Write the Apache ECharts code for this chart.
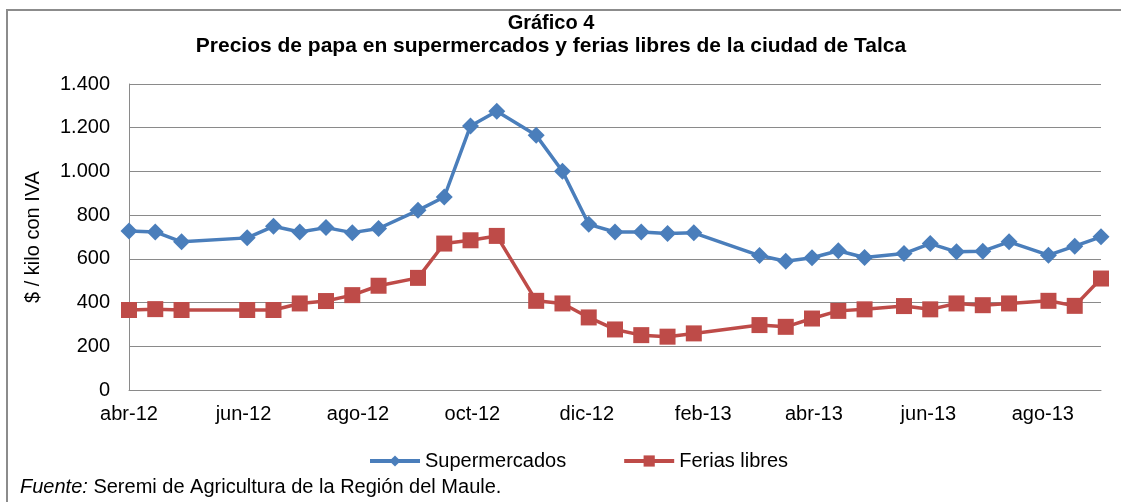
<!DOCTYPE html>
<html>
<head>
<meta charset="utf-8">
<script src="https://cdn.jsdelivr.net/npm/echarts@6/dist/echarts.min.js"></script>
<style>
  html, body { margin: 0; padding: 0; background: #fff; }
  #chart { width: 1121px; height: 502px; }
</style>
</head>
<body>
<div id="chart"></div>
<script>
  // fechas de medición (domingos, quincenal)
  var dates = ['2012-04-01', '2012-04-15', '2012-04-29', '2012-06-03', '2012-06-17', '2012-07-01',
    '2012-07-15', '2012-07-29', '2012-08-12', '2012-09-02', '2012-09-16', '2012-09-30',
    '2012-10-14', '2012-11-04', '2012-11-18', '2012-12-02', '2012-12-16', '2012-12-30',
    '2013-01-13', '2013-01-27', '2013-03-03', '2013-03-17', '2013-03-31', '2013-04-14',
    '2013-04-28', '2013-05-19', '2013-06-02', '2013-06-16', '2013-06-30', '2013-07-14',
    '2013-08-04', '2013-08-18', '2013-09-01'];
  var supermercados = [728, 723, 678, 696, 749, 723, 743, 720, 739, 822, 883, 1208, 1275, 1165, 1001,
    758, 723, 723, 716, 719, 615, 589, 605, 637, 606, 624, 670, 632, 635, 678, 617, 658, 701];
  var ferias = [366, 370, 366, 366, 366, 396, 407, 434, 477, 513, 670, 685, 705, 408, 396,
    332, 277, 251, 244, 259, 297, 289, 327, 362, 369, 384, 369, 396, 388, 396, 408, 385, 510];
  // etiquetas del eje x
  var tickDates = ['2012-04-01', '2012-06-01', '2012-08-01', '2012-10-01', '2012-12-01',
    '2013-02-01', '2013-04-01', '2013-06-01', '2013-08-01'];
  var tickLabels = ['abr-12', 'jun-12', 'ago-12', 'oct-12', 'dic-12', 'feb-13', 'abr-13', 'jun-13', 'ago-13'];

  var font = 'Liberation Sans, Arial, sans-serif';
  function ts(d) { return Date.parse(d + 'T00:00:00Z'); }
  var tickTimes = tickDates.map(ts);

  var myChart = echarts.init(document.getElementById('chart'));
  myChart.setOption({
    animation: false,
    textStyle: { fontFamily: font },
    grid: { left: 129, right: 20, top: 84, bottom: 112 },
    legend: {
      left: 363, top: 446,
      itemWidth: 50, itemHeight: 14, itemGap: 56,
      lineStyle: { width: 4 },
      textStyle: { fontSize: 20, color: '#000', fontFamily: font },
      data: ['Supermercados', 'Ferias libres']
    },
    xAxis: {
      type: 'value',
      min: ts('2012-04-01'),
      max: ts('2013-09-01'),
      axisLine: { lineStyle: { color: '#8a8a8a', width: 1 } },
      axisTick: { show: false },
      splitLine: { show: false },
      axisLabel: {
        customValues: tickTimes,
        margin: 14,
        fontSize: 20,
        color: '#000',
        fontFamily: font,
        formatter: function (v) {
          var i = tickTimes.indexOf(+v);
          return i >= 0 ? tickLabels[i] : '';
        }
      }
    },
    yAxis: {
      type: 'value',
      min: 0, max: 1400, interval: 200,
      name: '$ / kilo con IVA',
      nameLocation: 'middle',
      nameGap: 86,
      nameTextStyle: { fontSize: 20, color: '#000', fontFamily: font },
      axisLine: { show: true, lineStyle: { color: '#8a8a8a', width: 1 } },
      axisTick: { show: false },
      splitLine: { lineStyle: { color: '#8a8a8a', width: 1 } },
      axisLabel: {
        margin: 19,
        fontSize: 20,
        color: '#000',
        fontFamily: font,
        formatter: function (v) { return String(v).replace(/\B(?=(\d{3})+(?!\d))/g, '.'); }
      }
    },
    graphic: [
      { type: 'polyline', silent: true,
        shape: { points: [[7, 502], [7, 10], [1121, 10]] },
        style: { stroke: '#8c8c8c', lineWidth: 2, fill: null } },
      { type: 'text', x: 551, y: 23,
        style: { text: 'Gráfico 4', align: 'center', verticalAlign: 'middle',
          font: 'bold 20px ' + font, fill: '#000' } },
      { type: 'text', x: 551, y: 46,
        style: { text: 'Precios de papa en supermercados y ferias libres de la ciudad de Talca',
          align: 'center', verticalAlign: 'middle', font: 'bold 21px ' + font, fill: '#000' } },
      { type: 'text', x: 20, y: 487,
        style: { text: '{i|Fuente:} Seremi de Agricultura de la Región del Maule.',
          verticalAlign: 'middle', font: '20px ' + font, fill: '#000',
          rich: { i: { fontStyle: 'italic', fontSize: 20, fontFamily: font } } } }
    ],
    series: [
      {
        name: 'Supermercados',
        type: 'line',
        data: dates.map(function (d, i) { return [ts(d), supermercados[i]]; }),
        symbol: 'diamond',
        symbolSize: 17,
        lineStyle: { color: '#4a7ebb', width: 3.5 },
        itemStyle: { color: '#4a7ebb' }
      },
      {
        name: 'Ferias libres',
        type: 'line',
        data: dates.map(function (d, i) { return [ts(d), ferias[i]]; }),
        symbol: 'rect',
        symbolSize: 16,
        lineStyle: { color: '#be4b48', width: 3.5 },
        itemStyle: { color: '#be4b48' }
      }
    ]
  });
</script>
</body>
</html>
